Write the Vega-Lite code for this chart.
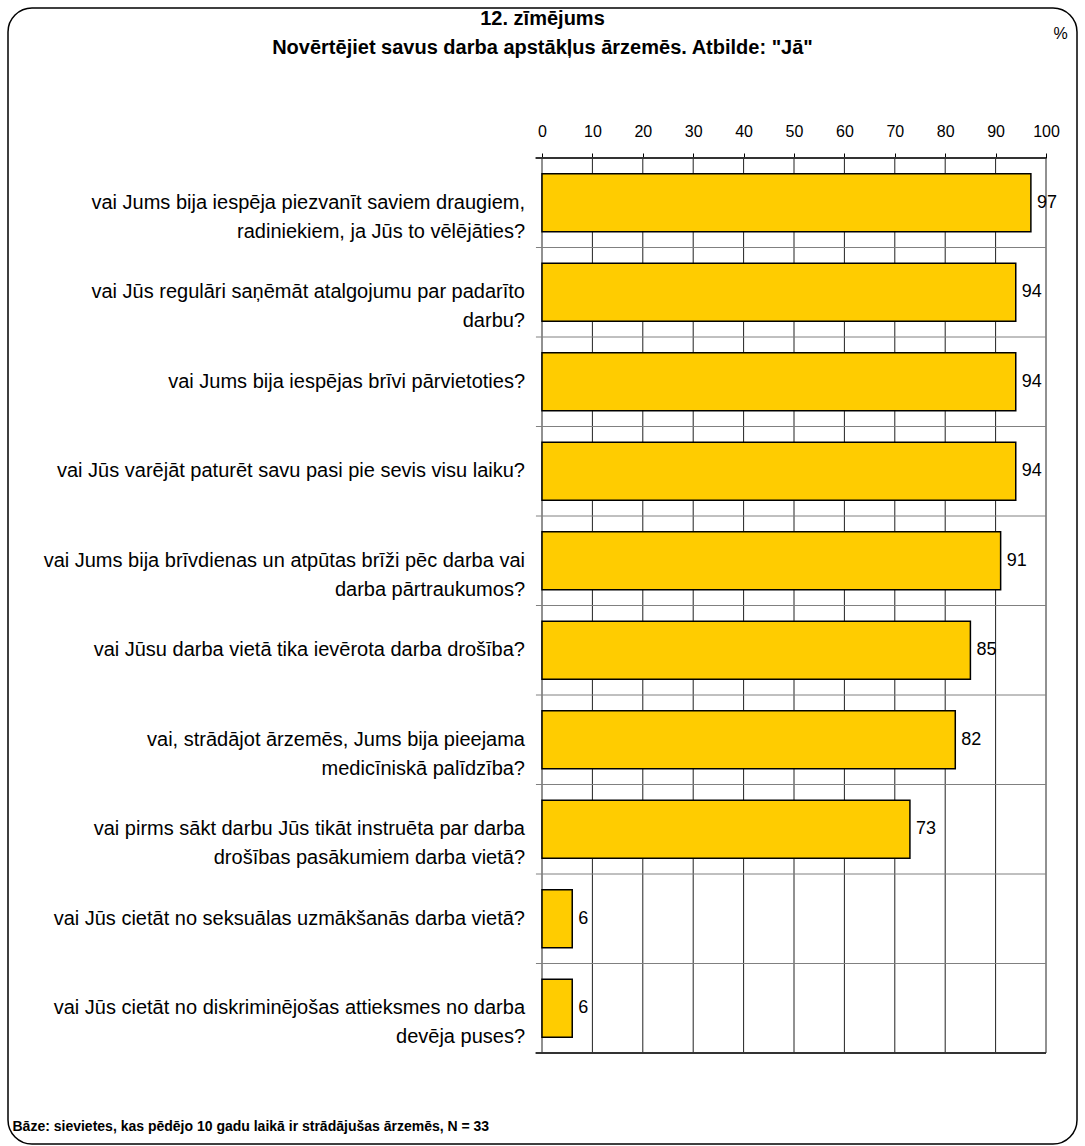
{
  "$schema": "https://vega.github.io/schema/vega-lite/v6.json",
  "width": 1069,
  "height": 1136,
  "autosize": {"type": "none"},
  "padding": {"left": 8, "top": 8, "right": 8, "bottom": 2},
  "background": "white",
  "config": {
    "view": {"stroke": "#000", "strokeWidth": 1.5, "cornerRadius": 24},
    "font": "Liberation Sans"
  },
  "title": {
    "text": ["12. zīmējums", "Novērtējiet savus darba apstākļus ārzemēs. Atbilde: \"Jā\""],
    "anchor": "middle",
    "font": "Liberation Sans",
    "fontSize": 20,
    "fontWeight": "bold",
    "color": "#000",
    "lineHeight": 29,
    "offset": -50
  },
  "datasets": {
    "dati": [
      {"nr": 1, "q": "vai Jums bija iespēja piezvanīt saviem draugiem,\nradiniekiem, ja Jūs to vēlējāties?", "v": 97},
      {"nr": 2, "q": "vai Jūs regulāri saņēmāt atalgojumu par padarīto\ndarbu?", "v": 94},
      {"nr": 3, "q": "vai Jums bija iespējas brīvi pārvietoties?", "v": 94},
      {"nr": 4, "q": "vai Jūs varējāt paturēt savu pasi pie sevis visu laiku?", "v": 94},
      {"nr": 5, "q": "vai Jums bija brīvdienas un atpūtas brīži pēc darba vai\ndarba pārtraukumos?", "v": 91},
      {"nr": 6, "q": "vai Jūsu darba vietā tika ievērota darba drošība?", "v": 85},
      {"nr": 7, "q": "vai, strādājot ārzemēs, Jums bija pieejama\nmedicīniskā palīdzība?", "v": 82},
      {"nr": 8, "q": "vai pirms sākt darbu Jūs tikāt instruēta par darba\ndrošības pasākumiem darba vietā?", "v": 73},
      {"nr": 9, "q": "vai Jūs cietāt no seksuālas uzmākšanās darba vietā?", "v": 6},
      {"nr": 10, "q": "vai Jūs cietāt no diskriminējošas attieksmes no darba\ndevēja puses?", "v": 6}
    ],
    "rezgis": [
      {"g": 0}, {"g": 10}, {"g": 20}, {"g": 30}, {"g": 40}, {"g": 50},
      {"g": 60}, {"g": 70}, {"g": 80}, {"g": 90}, {"g": 100}
    ]
  },
  "data": {"name": "dati"},
  "layer": [
    {
      "data": {"name": "rezgis"},
      "mark": {"type": "rule", "color": "#222", "strokeWidth": 1},
      "encoding": {
        "x": {
          "field": "g",
          "type": "quantitative",
          "scale": {"domain": [0, 100], "range": [534, 1038], "nice": false, "zero": false},
          "axis": {
            "orient": "top",
            "offset": -150,
            "values": [0, 10, 20, 30, 40, 50, 60, 70, 80, 90, 100],
            "domain": false,
            "grid": false,
            "ticks": true,
            "tickSize": 5,
            "tickColor": "#000",
            "tickWidth": 1,
            "labelFont": "Liberation Sans",
            "labelFontSize": 16,
            "labelColor": "#000",
            "labelPadding": 14,
            "labelFlush": false,
            "labelOverlap": false,
            "title": "%",
            "titleX": 1052,
            "titleY": -125,
            "titleAngle": 0,
            "titleAlign": "center",
            "titleBaseline": "middle",
            "titleFont": "Liberation Sans",
            "titleFontSize": 16,
            "titleFontWeight": "normal",
            "titleColor": "#000"
          }
        },
        "y": {
          "datum": 1,
          "type": "ordinal",
          "bandPosition": 0,
          "scale": {
            "domain": [1, 2, 3, 4, 5, 6, 7, 8, 9, 10],
            "range": [150, 1045],
            "paddingInner": 0,
            "paddingOuter": 0
          },
          "axis": {
            "orient": "left",
            "labels": false,
            "ticks": false,
            "domain": false,
            "grid": false,
            "title": "Bāze: sievietes, kas pēdējo 10 gadu laikā ir strādājušas ārzemēs, N = 33",
            "titleAngle": 0,
            "titleX": 4,
            "titleY": 1122,
            "titleAlign": "left",
            "titleBaseline": "alphabetic",
            "titleFont": "Liberation Sans",
            "titleFontSize": 14,
            "titleFontWeight": "bold",
            "titleColor": "#000"
          }
        },
        "y2": {"datum": 10, "bandPosition": 1}
      }
    },
    {
      "mark": {"type": "rule", "color": "#808080", "strokeWidth": 1},
      "encoding": {
        "y": {"field": "nr", "type": "ordinal", "bandPosition": 0},
        "x": {"datum": -1.2},
        "x2": {"datum": 100}
      }
    },
    {
      "mark": {"type": "rule", "color": "#333", "strokeWidth": 2},
      "encoding": {
        "y": {"datum": 1, "type": "ordinal", "bandPosition": 0},
        "x": {"datum": -1.2},
        "x2": {"datum": 100}
      }
    },
    {
      "mark": {"type": "rule", "color": "#333", "strokeWidth": 2},
      "encoding": {
        "y": {"datum": 10, "type": "ordinal", "bandPosition": 1},
        "x": {"datum": -1.2},
        "x2": {"datum": 100}
      }
    },
    {
      "mark": {"type": "bar", "fill": "#FFCC00", "stroke": "#000", "strokeWidth": 1.5, "height": {"band": 0.65}},
      "encoding": {
        "y": {"field": "nr", "type": "ordinal"},
        "x": {"field": "v", "type": "quantitative"},
        "x2": {"datum": 0}
      }
    },
    {
      "mark": {"type": "text", "align": "left", "baseline": "middle", "dx": 6, "fontSize": 18, "color": "#000", "font": "Liberation Sans"},
      "encoding": {
        "y": {"field": "nr", "type": "ordinal"},
        "x": {"field": "v", "type": "quantitative"},
        "text": {"field": "v", "type": "quantitative"}
      }
    },
    {
      "mark": {"type": "text", "align": "right", "baseline": "middle", "dx": -17, "fontSize": 20, "lineHeight": 29, "lineBreak": "\n", "color": "#000", "font": "Liberation Sans"},
      "encoding": {
        "y": {"field": "nr", "type": "ordinal"},
        "x": {"datum": 0},
        "text": {"field": "q", "type": "nominal"}
      }
    }
  ]
}
